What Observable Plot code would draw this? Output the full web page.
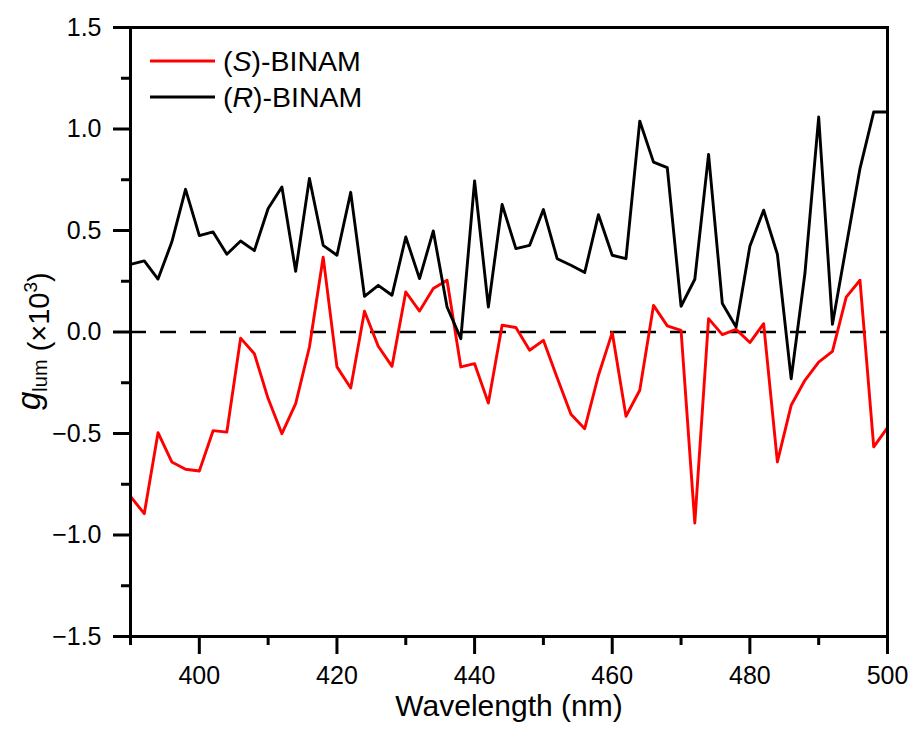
<!DOCTYPE html>
<html>
<head>
<meta charset="utf-8">
<script src="https://cdn.jsdelivr.net/npm/d3@7"></script>
<script src="https://cdn.jsdelivr.net/npm/@observablehq/plot@0.6"></script>
<style>
  html, body { margin: 0; padding: 0; background: #fff; }
</style>
</head>
<body>
<div id="chart"></div>
<script>
const wavelength = [390,392,394,396,398,400,402,404,406,408,410,412,414,416,418,420,422,424,426,428,430,432,434,436,438,440,442,444,446,448,450,452,454,456,458,460,462,464,466,468,470,472,474,476,478,480,482,484,486,488,490,492,494,496,498,500];

const gS = [-0.81,-0.895,-0.496,-0.640,-0.676,-0.685,-0.486,-0.493,-0.030,-0.107,
            -0.328,-0.501,-0.353,-0.074,0.369,-0.172,-0.276,0.102,-0.070,-0.169,
            0.197,0.103,0.214,0.255,-0.172,-0.156,-0.350,0.033,0.022,-0.090,
            -0.041,-0.225,-0.405,-0.476,-0.213,-0.003,-0.415,-0.287,0.131,0.030,
            0.008,-0.941,0.066,-0.013,0.013,-0.052,0.041,-0.640,-0.361,-0.238,
            -0.148,-0.095,0.172,0.255,-0.566,-0.471];

const gR = [0.333,0.350,0.261,0.443,0.703,0.475,0.493,0.383,0.448,0.401,
            0.608,0.714,0.299,0.756,0.427,0.378,0.688,0.176,0.230,0.181,
            0.468,0.263,0.498,0.123,-0.033,0.744,0.123,0.628,0.411,0.427,
            0.603,0.361,0.329,0.293,0.578,0.378,0.361,1.039,0.837,0.810,
            0.127,0.260,0.875,0.140,0.025,0.422,0.600,0.383,-0.230,0.288,
            1.059,0.038,0.422,0.805,1.084,1.084];

const xMajor = [400,420,440,460,480,500];
const xMinor = [390,410,430,450,470,490];
const yMajor = [-1.5,-1.0,-0.5,0,0.5,1.0,1.5];
const yMinor = [-1.25,-0.75,-0.25,0.25,0.75,1.25];

const seriesNames = ["S", "R"];
const seriesColors = ["#ff0000", "#000000"];

const S = wavelength.map((w, i) => ({w, g: gS[i]}));
const R = wavelength.map((w, i) => ({w, g: gR[i]}));

const fmt = d => d.toFixed(1).replace("-", "\u2212");

const chart = Plot.plot({
  width: 910,
  height: 731,
  marginLeft: 130,
  marginRight: 23,
  marginTop: 27,
  marginBottom: 95,
  x: {domain: [390, 500]},
  y: {domain: [-1.5, 1.5]},
  style: {fontFamily: "'Liberation Sans', Arial, sans-serif", fontSize: "25px", color: "#000", background: "#fff"},
  marks: [
    Plot.ruleY([0], {stroke: "#000", strokeWidth: 2.6, strokeDasharray: "16,14"}),
    Plot.line(S, {x: "w", y: "g", stroke: seriesColors[0], strokeWidth: 2.9}),
    Plot.line(R, {x: "w", y: "g", stroke: seriesColors[1], strokeWidth: 2.9}),
    Plot.frame({stroke: "#000", strokeWidth: 3}),
    Plot.axisX(xMajor, {tickSize: 18, tickPadding: 12, strokeWidth: 3, label: null, tickFormat: d => String(d), fontSize: 25}),
    Plot.axisX(xMinor, {tickSize: 9, strokeWidth: 3, label: null, tickFormat: () => ""}),
    Plot.axisY(yMajor, {tickSize: 17, tickPadding: 12, strokeWidth: 3, label: null, tickFormat: fmt, fontSize: 25}),
    Plot.axisY(yMinor, {tickSize: 9, strokeWidth: 3, label: null, tickFormat: () => ""}),
    Plot.text(["Wavelength (nm)"], {frameAnchor: "bottom", dy: 79, fontSize: 30})
  ]
});

document.getElementById("chart").appendChild(chart);

const svg = d3.select(chart);

// Y axis label with italic g, subscript and superscript
const yl = svg.append("text")
  .attr("transform", "translate(49,410) rotate(-90)")
  .attr("text-anchor", "start")
  .attr("font-size", 29)
  .attr("fill", "#000");
yl.append("tspan").attr("font-style", "italic").attr("font-size", 33).attr("dy", -9).text("g");
yl.append("tspan").attr("font-size", 20).attr("dy", 7).text("lum");
yl.append("tspan").attr("dy", 2).text(" (\u00d710");
yl.append("tspan").attr("font-size", 19).attr("dy", -12).text("3");
yl.append("tspan").attr("dy", 12).text(")");

// Legend
const legendRows = [61, 97];
seriesNames.forEach((name, i) => {
  const y = legendRows[i];
  svg.append("line")
    .attr("x1", 150).attr("x2", 215)
    .attr("y1", y).attr("y2", y)
    .attr("stroke", seriesColors[i]).attr("stroke-width", 2.9);
  const t = svg.append("text")
    .attr("x", 223).attr("y", y).attr("dy", "0.36em")
    .attr("text-anchor", "start")
    .attr("font-size", 28.5).attr("fill", "#000");
  t.append("tspan").text("(");
  t.append("tspan").attr("font-style", "italic").text(name);
  t.append("tspan").text(")-BINAM");
});
</script>
</body>
</html>
